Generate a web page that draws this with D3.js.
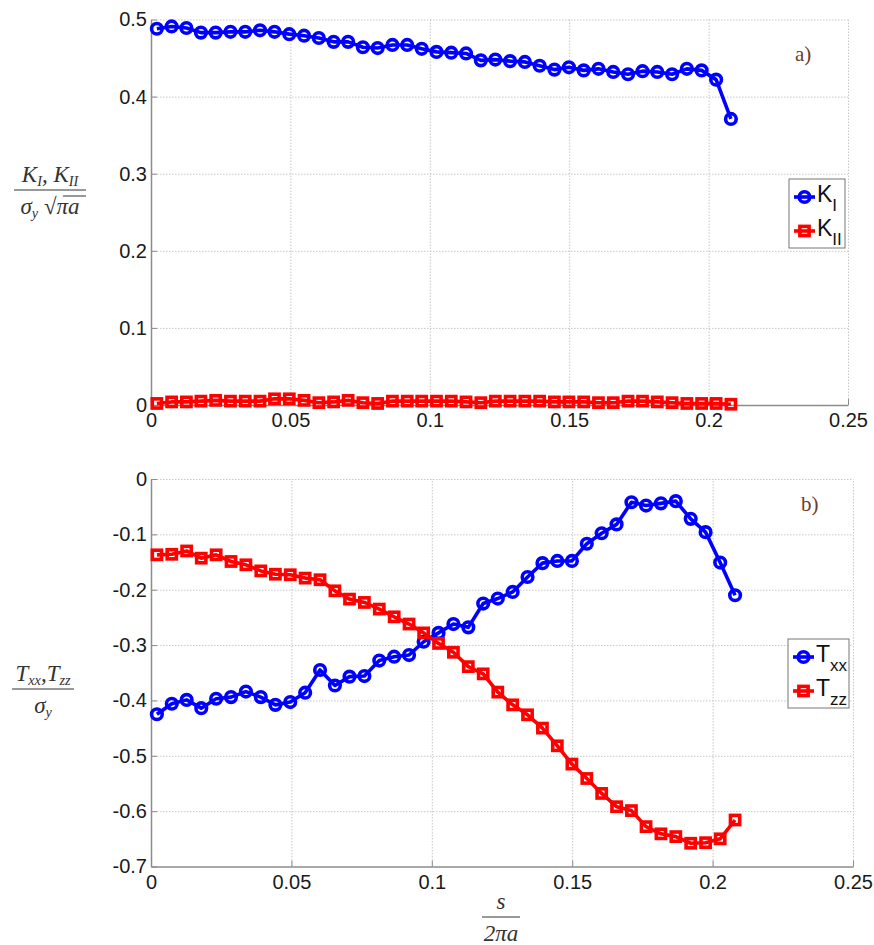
<!DOCTYPE html>
<html lang="en">
<head>
  <meta charset="UTF-8">
  <title>Stress intensity factors and T-stresses along the crack front</title>
  <script src="https://d3js.org/d3.v7.min.js"></script>
  <style>
    body { margin: 0; background: #fff; }
    svg { display: block; }
    .axis path, .axis line { stroke: #8c8c8c; }
    .grid line { stroke: #c8c8c8; stroke-dasharray: 1.5 1.5; }
    .grid path { display: none; }
    .math { font-family: "Liberation Serif", "Times New Roman", serif; font-style: italic; fill: #333; }
    .legtxt { font-family: "Liberation Sans", Arial, sans-serif; fill: #111; }
  </style>
</head>
<body>
  <svg width="874" height="945"></svg>
  <script>
    // normalised arc length s / (2 pi a) of the 40 crack-front nodes
    const sPos = [0.0021, 0.0074, 0.0127, 0.0179, 0.0232, 0.0285, 0.0338, 0.0391, 0.0443, 0.0496,
                  0.0549, 0.0602, 0.0655, 0.0707, 0.0760, 0.0813, 0.0866, 0.0919, 0.0971, 0.1024,
                  0.1077, 0.1130, 0.1183, 0.1235, 0.1288, 0.1341, 0.1394, 0.1447, 0.1499, 0.1552,
                  0.1605, 0.1658, 0.1711, 0.1763, 0.1816, 0.1869, 0.1922, 0.1975, 0.2027, 0.2080];

    const kI = [0.488, 0.491, 0.489, 0.483, 0.483, 0.484, 0.484, 0.486, 0.484, 0.481,
                0.479, 0.476, 0.471, 0.471, 0.464, 0.463, 0.467, 0.467, 0.462, 0.458,
                0.457, 0.456, 0.447, 0.448, 0.446, 0.445, 0.440, 0.435, 0.438, 0.434,
                0.436, 0.432, 0.429, 0.433, 0.432, 0.429, 0.436, 0.434, 0.422, 0.371];

    const kII = [0.002, 0.004, 0.004, 0.005, 0.006, 0.005, 0.005, 0.005, 0.008, 0.008,
                 0.006, 0.003, 0.004, 0.006, 0.003, 0.002, 0.005, 0.005, 0.005, 0.005,
                 0.005, 0.004, 0.003, 0.005, 0.005, 0.005, 0.005, 0.004, 0.004, 0.004,
                 0.003, 0.003, 0.005, 0.005, 0.004, 0.003, 0.002, 0.002, 0.002, 0.001];

    const tXX = [-0.425, -0.406, -0.399, -0.414, -0.397, -0.394, -0.384, -0.394, -0.408, -0.403,
                 -0.386, -0.345, -0.373, -0.357, -0.356, -0.328, -0.321, -0.318, -0.294, -0.278,
                 -0.262, -0.268, -0.225, -0.216, -0.204, -0.177, -0.152, -0.148, -0.148, -0.117,
                 -0.098, -0.082, -0.042, -0.048, -0.044, -0.040, -0.072, -0.096, -0.151, -0.210];

    const tZZ = [-0.137, -0.136, -0.130, -0.143, -0.137, -0.149, -0.155, -0.166, -0.172, -0.173,
                 -0.179, -0.182, -0.202, -0.217, -0.223, -0.235, -0.249, -0.262, -0.278, -0.297,
                 -0.313, -0.339, -0.352, -0.385, -0.408, -0.426, -0.450, -0.482, -0.515, -0.541,
                 -0.568, -0.592, -0.599, -0.628, -0.641, -0.646, -0.658, -0.657, -0.650, -0.616];

    const xTicks = [0, 0.05, 0.1, 0.15, 0.2, 0.25];
    const yTicksA = [0, 0.1, 0.2, 0.3, 0.4, 0.5];
    const yTicksB = [0, -0.1, -0.2, -0.3, -0.4, -0.5, -0.6, -0.7];

    const svg = d3.select("svg");
    const fmt = d => d === 0 ? "0" : String(+d.toFixed(2));
    const LW = 3.6;

    // tick label look, applied straight on the axis groups
    const tickFont = a => a.attr("font-family", "Liberation Sans, Arial, sans-serif")
      .attr("font-size", 20)
      .call(s => s.selectAll(".tick text").attr("fill", "#1a1a1a"));

    function panel(box, yDomain, yTicks, series, tag) {
      const g = svg.append("g");
      const x = d3.scaleLinear().domain([0, 0.25]).range([box.left, box.right]);
      const y = d3.scaleLinear().domain(yDomain).range([box.bottom, box.top]);
      const w = box.right - box.left, h = box.bottom - box.top;

      // dotted grid
      g.append("g").attr("class", "grid")
        .attr("transform", `translate(0,${box.bottom})`)
        .call(d3.axisBottom(x).tickValues(xTicks.slice(1)).tickSize(-h).tickFormat(""));
      g.append("g").attr("class", "grid")
        .attr("transform", `translate(${box.left},0)`)
        .call(d3.axisLeft(y).tickValues(yTicks.filter(v => v !== yDomain[0])).tickSize(-w).tickFormat(""));

      // axes with inward ticks, matlab style
      g.append("g").attr("class", "axis")
        .attr("transform", `translate(0,${box.bottom})`)
        .call(d3.axisBottom(x).tickValues(xTicks).tickSizeInner(-6).tickSizeOuter(0).tickPadding(7).tickFormat(fmt))
        .call(tickFont)
        .call(a => a.select(".domain").attr("stroke-width", 1.5))
        .call(a => a.selectAll(".tick text").attr("dy", "0.75em"));
      g.append("g").attr("class", "axis")
        .attr("transform", `translate(${box.left},0)`)
        .call(d3.axisLeft(y).tickValues(yTicks).tickSizeInner(-6).tickSizeOuter(0).tickPadding(4).tickFormat(fmt))
        .call(tickFont)
        .call(a => a.select(".domain").attr("stroke-width", 1.5));

      const line = d3.line().x((d, i) => x(sPos[i])).y(d => y(d));
      series.forEach(s => {
        g.append("path").datum(s.values)
          .attr("d", line).attr("fill", "none")
          .attr("stroke", s.color).attr("stroke-width", LW).attr("stroke-linejoin", "round");
        const m = g.append("g").selectAll(null).data(s.values);
        if (s.shape === "circle") {
          m.join("circle").attr("cx", (d, i) => x(sPos[i])).attr("cy", d => y(d)).attr("r", 5.3)
            .attr("fill", "none").attr("stroke", s.color).attr("stroke-width", LW);
        } else {
          m.join("rect").attr("x", (d, i) => x(sPos[i]) - 4.6).attr("y", d => y(d) - 4.6)
            .attr("width", 9.2).attr("height", 9.2)
            .attr("fill", "none").attr("stroke", s.color).attr("stroke-width", LW);
        }
      });

      // panel tag a) / b)
      g.append("text").attr("x", tag.x).attr("y", tag.y)
        .attr("font-family", "Liberation Serif, Times New Roman, serif").attr("font-size", 21)
        .attr("fill", "#6e3b2b").text(tag.text);

      // legend
      const lg = g.append("g").attr("transform", `translate(${box.legend.x},${box.legend.y})`);
      lg.append("rect").attr("width", box.legend.w).attr("height", 69)
        .attr("fill", "#fff").attr("stroke", "#777").attr("stroke-width", 1);
      series.forEach((s, i) => {
        const cy = 18 + i * 34;
        lg.append("line").attr("x1", 5).attr("x2", 26).attr("y1", cy).attr("y2", cy)
          .attr("stroke", s.color).attr("stroke-width", LW);
        if (s.shape === "circle") {
          lg.append("circle").attr("cx", 15.5).attr("cy", cy).attr("r", 5.3)
            .attr("fill", "none").attr("stroke", s.color).attr("stroke-width", LW);
        } else {
          lg.append("rect").attr("x", 10.9).attr("y", cy - 4.6).attr("width", 9.2).attr("height", 9.2)
            .attr("fill", "none").attr("stroke", s.color).attr("stroke-width", LW);
        }
        const t = lg.append("text").attr("class", "legtxt").attr("x", 28).attr("y", cy + 5).attr("font-size", 23);
        t.append("tspan").text(s.name[0]);
        t.append("tspan").attr("font-size", 17).attr("dy", 9).text(s.name[1]);
      });
      return { x, y };
    }

    panel({ left: 151, right: 848, top: 19.5, bottom: 405, legend: { x: 789, y: 179, w: 56 } },
      [0, 0.5], yTicksA,
      [{ values: kI, color: "#0000ff", shape: "circle", name: ["K", "I"] },
       { values: kII, color: "#ff0000", shape: "square", name: ["K", "II"] }],
      { x: 795, y: 61, text: "a)" });

    panel({ left: 151, right: 853, top: 479, bottom: 866.5, legend: { x: 788, y: 639, w: 61 } },
      [-0.7, 0], yTicksB,
      [{ values: tXX, color: "#0000ff", shape: "circle", name: ["T", "xx"] },
       { values: tZZ, color: "#ff0000", shape: "square", name: ["T", "zz"] }],
      { x: 801, y: 511, text: "b)" });

    // axis labels, typeset as fractions
    function fraction(cx, barY, barW, num, den, size) {
      const g = svg.append("g");
      g.append("line").attr("x1", cx - barW / 2).attr("x2", cx + barW / 2)
        .attr("y1", barY).attr("y2", barY).attr("stroke", "#333").attr("stroke-width", 1);
      const put = (parts, yy) => {
        const t = g.append("text").attr("class", "math").attr("x", cx).attr("y", yy)
          .attr("text-anchor", "middle").attr("font-size", size);
        parts.forEach(p => {
          const sp = t.append("tspan").text(p.t);
          if (p.sub) sp.attr("font-size", size * 0.62).attr("baseline-shift", "-25%");
          if (p.up) sp.attr("font-style", "normal");
        });
        return t;
      };
      put(num, barY - 8);
      return put(den, barY + 24);
    }

    fraction(50, 190, 72,
      [{ t: "K" }, { t: "I", sub: true }, { t: ", K" }, { t: "II", sub: true }],
      [{ t: "σ" }, { t: "y", sub: true }, { t: " √", up: true }, { t: "πa" }], 23);
    // radical overbar
    svg.append("line").attr("x1", 63).attr("x2", 86).attr("y1", 196).attr("y2", 196)
      .attr("stroke", "#333").attr("stroke-width", 1);

    fraction(43, 689, 62,
      [{ t: "T" }, { t: "xx", sub: true }, { t: ",T" }, { t: "zz", sub: true }],
      [{ t: "σ" }, { t: "y", sub: true }], 23);

    fraction(501, 917, 38,
      [{ t: "s" }],
      [{ t: "2πa" }], 23);
  </script>
</body>
</html>
